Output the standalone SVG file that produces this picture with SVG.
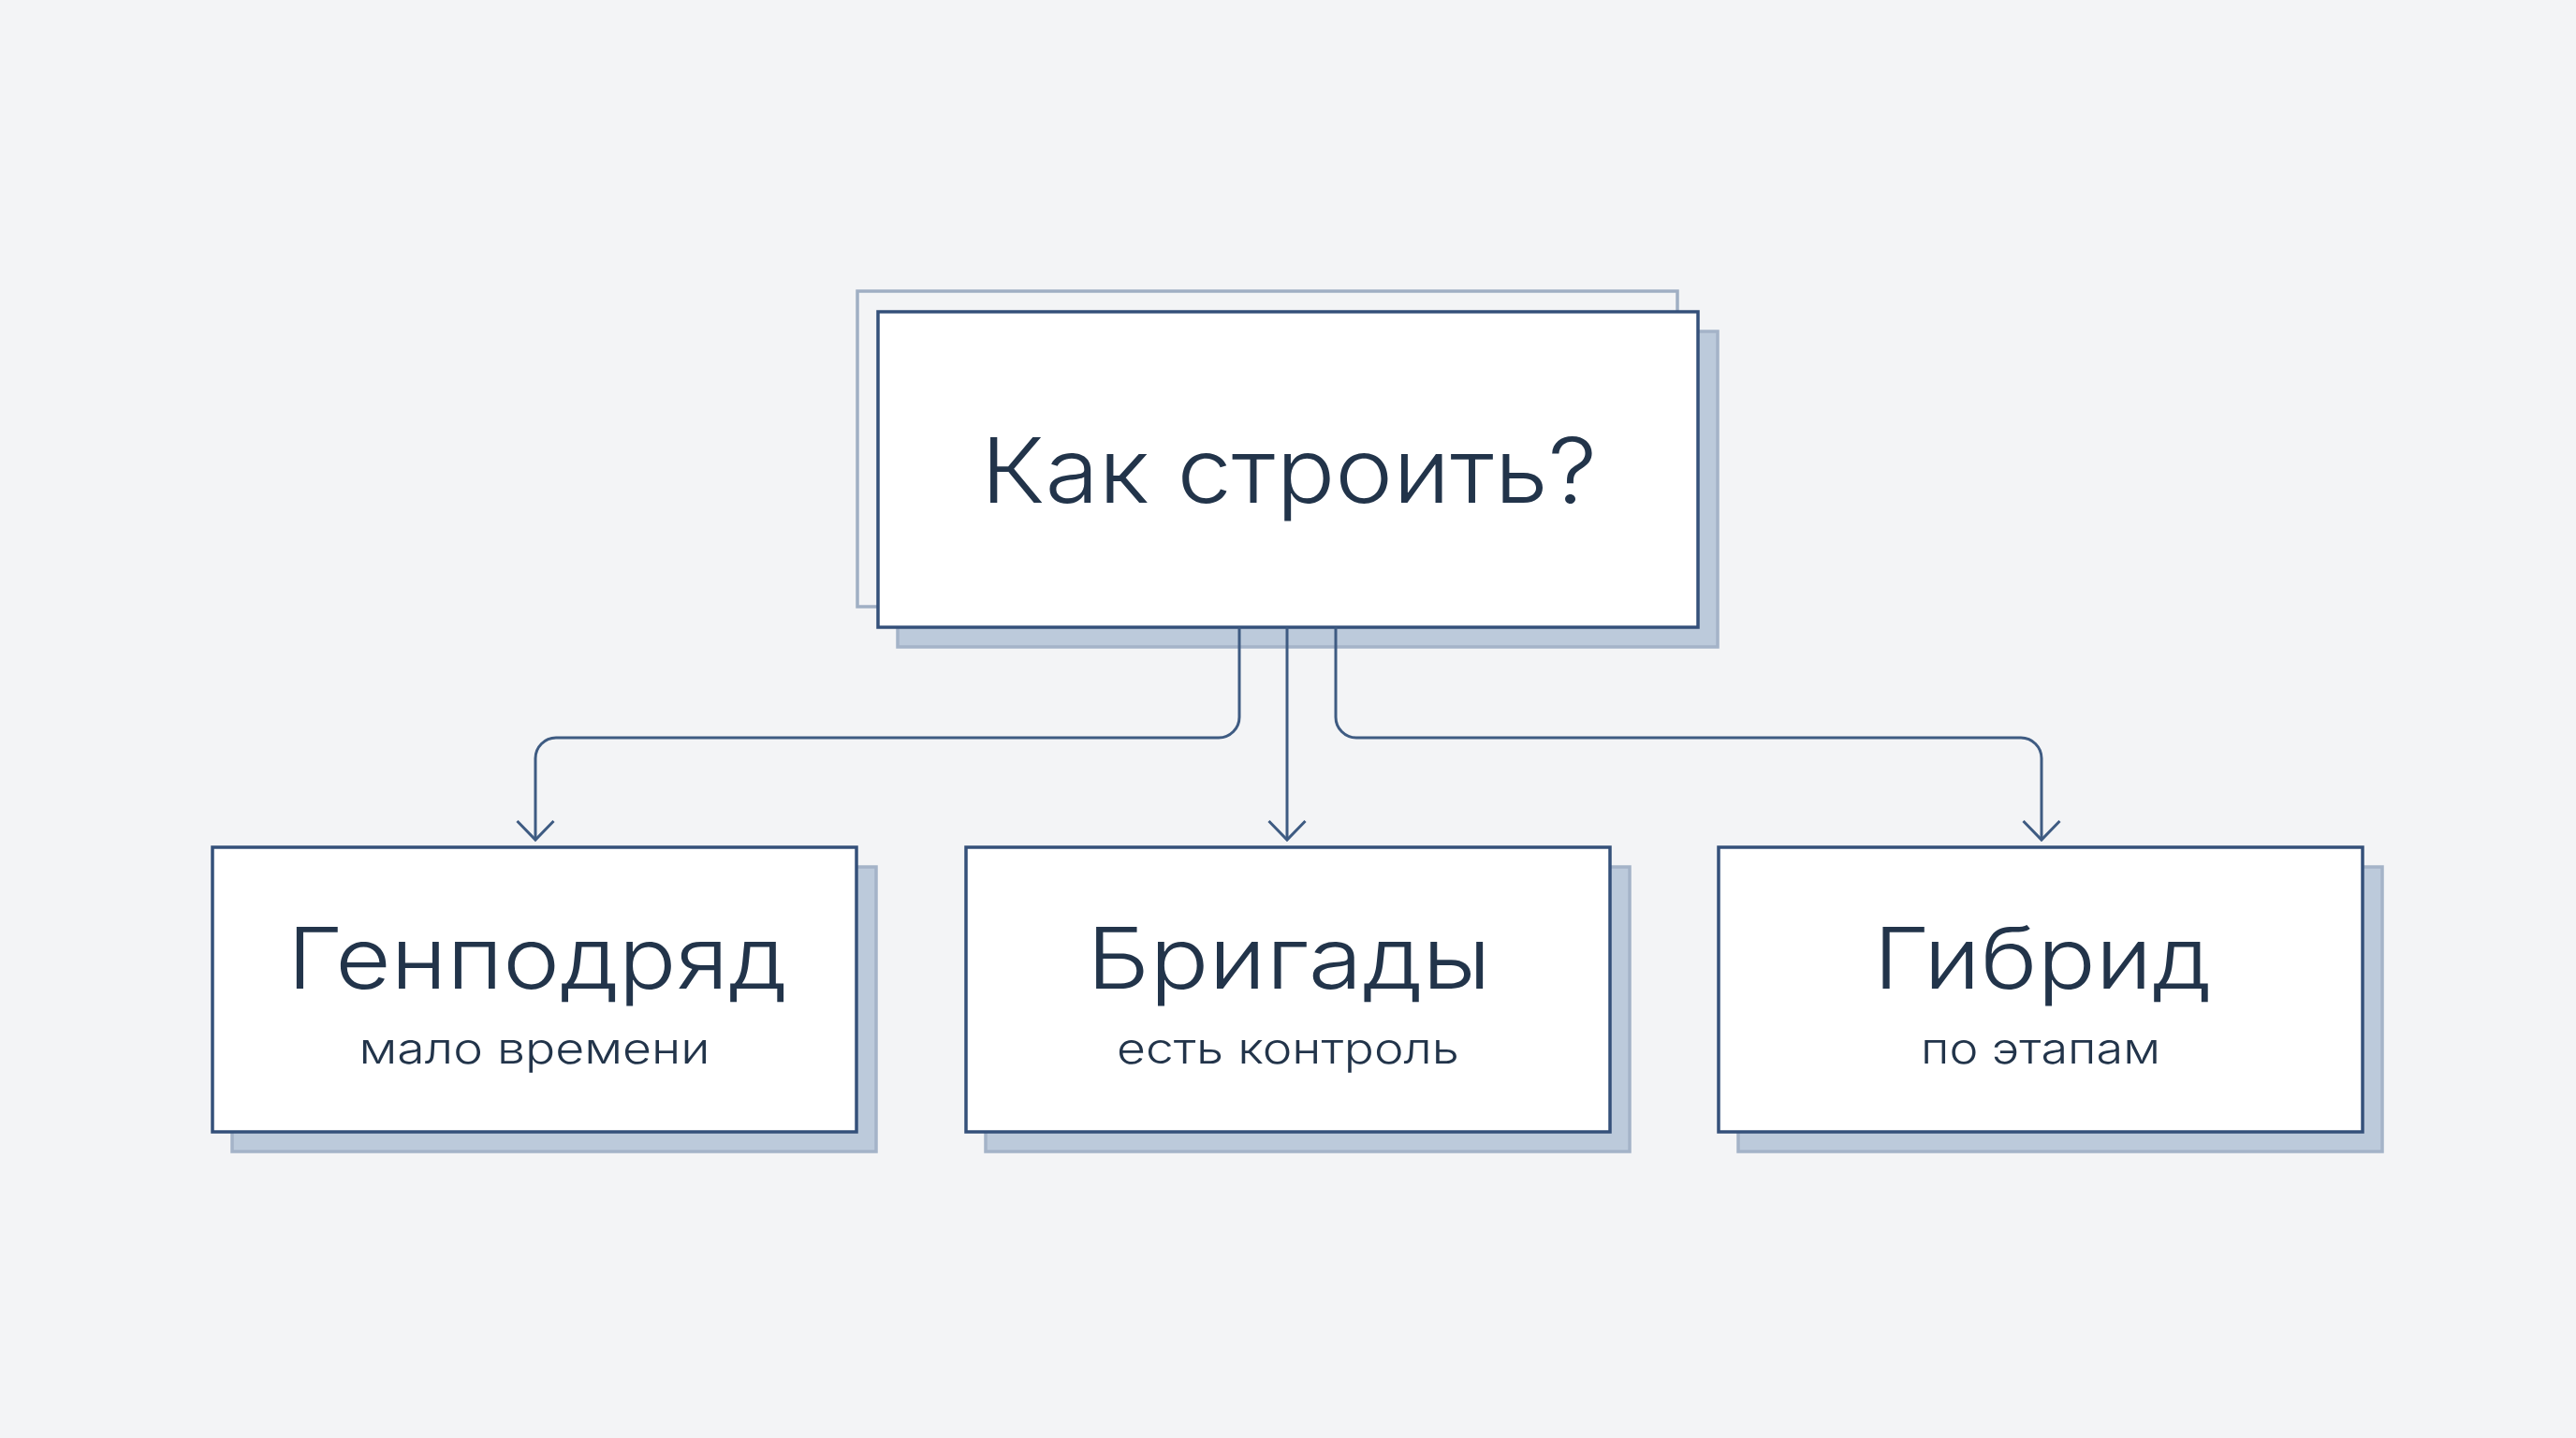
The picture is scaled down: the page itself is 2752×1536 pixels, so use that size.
<svg xmlns="http://www.w3.org/2000/svg" width="2752" height="1536" viewBox="0 0 2752 1536">
  <defs>
    <style>
      .bg { fill: #f3f4f6; }
      .shadow { fill: #bccadb; stroke: #a4b3c8; stroke-width: 3.5; }
      .ghost { fill: none; stroke: #a0afc4; stroke-width: 3.5; }
      .box { fill: #ffffff; stroke: #34507a; stroke-width: 3.5; }
      .conn { fill: none; stroke: #3e5b82; stroke-width: 3; }
      .title { font-family: Inter, "Noto Sans", sans-serif; font-weight: 300; fill: #22344a; text-anchor: middle; }
      .main { font-size: 96px; }
      .head { font-size: 91px; }
      .sub { font-size: 46px; }
    </style>
    <marker id="arrow" markerUnits="userSpaceOnUse" markerWidth="50" markerHeight="50" viewBox="-25 -25 50 50" refX="0" refY="0" orient="auto" overflow="visible">
      <path d="M-20,-19.5 L0,0 L-20,19.5" fill="none" stroke="#3e5b82" stroke-width="3"/>
    </marker>
  </defs>
  <rect class="bg" x="0" y="0" width="2752" height="1536"/>

  <g id="node-main">
    <rect class="ghost" x="916" y="311" width="876" height="337"/>
    <rect class="shadow" x="959" y="354" width="876" height="337"/>
    <rect class="box" x="938" y="333" width="876" height="337"/>
    <text class="title main" x="1377" y="537" textLength="658" lengthAdjust="spacingAndGlyphs">Как строить?</text>
  </g>

  <g id="connectors">
    <path class="conn" d="M1324,670 V766 A22,22 0 0 1 1302,788 H594 A22,22 0 0 0 572,810 V897" marker-end="url(#arrow)"/>
    <path class="conn" d="M1375,670 V897" marker-end="url(#arrow)"/>
    <path class="conn" d="M1427,670 V766 A22,22 0 0 0 1449,788 H2159 A22,22 0 0 1 2181,810 V897" marker-end="url(#arrow)"/>
  </g>

  <g id="node-genpodryad">
    <rect class="shadow" x="248" y="926" width="688" height="304"/>
    <rect class="box" x="227" y="905" width="688" height="304"/>
    <text class="title head" x="574" y="1056" textLength="534" lengthAdjust="spacingAndGlyphs">Генподряд</text>
    <text class="title sub" x="571" y="1136" textLength="375" lengthAdjust="spacingAndGlyphs">мало времени</text>
  </g>

  <g id="node-brigady">
    <rect class="shadow" x="1053" y="926" width="688" height="304"/>
    <rect class="box" x="1032" y="905" width="688" height="304"/>
    <text class="title head" x="1377" y="1056" textLength="432" lengthAdjust="spacingAndGlyphs">Бригады</text>
    <text class="title sub" x="1376" y="1136" textLength="366" lengthAdjust="spacingAndGlyphs">есть контроль</text>
  </g>

  <g id="node-gibrid">
    <rect class="shadow" x="1857" y="926" width="688" height="304"/>
    <rect class="box" x="1836" y="905" width="688" height="304"/>
    <text class="title head" x="2182" y="1056" textLength="361" lengthAdjust="spacingAndGlyphs">Гибрид</text>
    <text class="title sub" x="2180" y="1136" textLength="256" lengthAdjust="spacingAndGlyphs">по этапам</text>
  </g>
</svg>
